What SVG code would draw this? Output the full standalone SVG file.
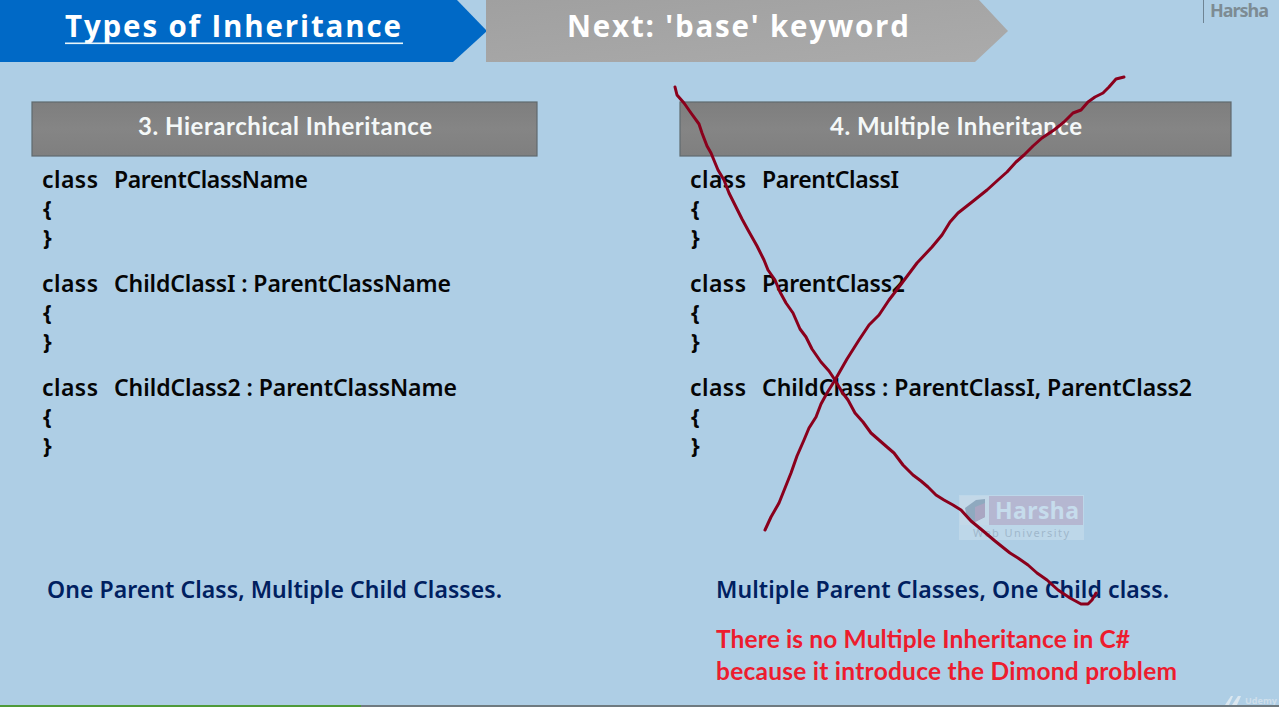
<svg xmlns="http://www.w3.org/2000/svg" width="1279" height="707" viewBox="0 0 1279 707">
<defs>
<linearGradient id="gh" x1="0" y1="0" x2="0" y2="1"><stop offset="0" stop-color="#7e7e7e"/><stop offset="0.5" stop-color="#858585"/><stop offset="1" stop-color="#7f7f7f"/></linearGradient>
<linearGradient id="gg" x1="0" y1="0" x2="1" y2="1"><stop offset="0" stop-color="#a0a0a0"/><stop offset="1" stop-color="#ababab"/></linearGradient>
</defs>
<style>
text{font-family:"Noto Sans","Open Sans","Liberation Sans",sans-serif}
.code{font-size:23px;font-weight:600;fill:#050505}
.brace{font-size:22px;font-weight:700;fill:#050505}
.head{font-family:"Lato","Noto Sans",sans-serif;font-size:24px;font-weight:700;fill:#f4f8f8}
.banner{font-family:"Open Sans","Noto Sans",sans-serif;font-size:29.5px;font-weight:700;fill:#fff}
.blue{font-size:23px;font-weight:600;fill:#002060}
.red{font-family:"Lato","Noto Sans",sans-serif;font-size:24.5px;font-weight:700;fill:#ed1c2e}
.box{fill:url(#gh);stroke:#5f6a6e;stroke-width:1.2}
.ink{fill:none;stroke:#8a001c;stroke-width:3;stroke-linejoin:round;stroke-linecap:round}
</style>
<rect width="1279" height="707" fill="#aecee5"/>
<g id="banner-current">
<polygon points="0,0 457,0 487,31 453,62 0,62" fill="#0069c6"/>
<text class="banner" x="65" y="37" textLength="336">Types of Inheritance</text>
<rect x="65" y="42.5" width="338" height="1.6" fill="#e8f6fa"/>
</g>
<g id="banner-next">
<polygon points="486,0 979,0 1008,31 975,62 486,62" fill="url(#gg)"/>
<text class="banner" x="567" y="37" textLength="342">Next: 'base' keyword</text>
</g>
<g id="brand">
<rect x="1203" y="0" width="1" height="23" fill="#6f8494"/>
<text x="1210" y="17" font-size="18" font-weight="700" fill="#7d8b93" textLength="59">Harsha</text>
</g>
<g id="left-header">
<rect class="box" x="32" y="102" width="505" height="54"/>
<text class="head" x="138" y="135" textLength="294">3. Hierarchical Inheritance</text>
</g>
<g id="right-header">
<rect class="box" x="680" y="102" width="551" height="54"/>
<text class="head" x="830" y="135" textLength="252">4. Multiple Inheritance</text>
</g>
<g id="left-code">
<text class="code" x="42" y="188" textLength="56">class</text>
<text class="code" x="114" y="188" textLength="194">ParentClassName</text>
<text class="brace" x="43" y="216">{</text>
<text class="brace" x="43" y="245">}</text>
<text class="code" x="42" y="292" textLength="56">class</text>
<text class="code" x="114" y="292" textLength="337">ChildClassI : ParentClassName</text>
<text class="brace" x="43" y="320">{</text>
<text class="brace" x="43" y="349">}</text>
<text class="code" x="42" y="396" textLength="56">class</text>
<text class="code" x="114" y="396" textLength="343">ChildClass2 : ParentClassName</text>
<text class="brace" x="43" y="424">{</text>
<text class="brace" x="43" y="453">}</text>
</g>
<g id="right-code">
<text class="code" x="690" y="188" textLength="56">class</text>
<text class="code" x="762" y="188" textLength="137">ParentClassI</text>
<text class="brace" x="691" y="216">{</text>
<text class="brace" x="691" y="245">}</text>
<text class="code" x="690" y="292" textLength="56">class</text>
<text class="code" x="762" y="292" textLength="143">ParentClass2</text>
<text class="brace" x="691" y="320">{</text>
<text class="brace" x="691" y="349">}</text>
<text class="code" x="690" y="396" textLength="56">class</text>
<text class="code" x="762" y="396" textLength="430">ChildClass : ParentClassI, ParentClass2</text>
<text class="brace" x="691" y="424">{</text>
<text class="brace" x="691" y="453">}</text>
</g>
<g id="watermark">
<rect x="959" y="495" width="125" height="45" fill="#bdd7e9"/>
<rect x="960" y="496" width="123" height="29" fill="#b5b7d1"/>
<rect x="960" y="496" width="29" height="29" fill="#c3d8e8"/>
<polygon points="965,508 976,500 985,499 985,517 975,522 967,519" fill="#8fa9bf"/>
<polygon points="975,507 985,503 985,517 975,522" fill="#a9a6c2"/>
<text x="995" y="519" font-size="23" font-weight="700" fill="#c6dcec" textLength="84">Harsha</text>
<text x="973" y="537" font-size="11" fill="#a0b8cc" textLength="96">Web University</text>
</g>
<g id="left-note">
<text class="blue" x="47" y="598" textLength="455">One Parent Class, Multiple Child Classes.</text>
</g>
<g id="right-note">
<text class="blue" x="716" y="598" textLength="453">Multiple Parent Classes, One Child class.</text>
<text class="red" x="716" y="648" textLength="414">There is no Multiple Inheritance in C#</text>
<text class="red" x="716" y="680" textLength="461">because it introduce the Dimond problem</text>
</g>
<g id="connectors">
<polyline class="ink" points="675,87 677,95 684,103 691,113 699,124 702,133 707,146 711,153 718,170 724,180 729,193 736,207 742,219 748,230 757,246 764,260 768,270 775,280 780,292 786,303 793,313 800,329 806,337 812,349 821,362 829,371 835,380 842,392 848,400 855,413 863,422 871,433 879,440 887,447 894,453 903,465 913,475 921,481 928,487 936,495 944,500 953,505 961,510 971,521 982,530 995,541 1010,553 1018,558 1028,565 1037,573 1047,580 1058,590 1070,598 1081,604 1088,604 1092,600 1096,593"/>
<polyline class="ink" points="765,530 771,517 779,503 785,488 791,473 797,456 804,440 809,428 816,417 821,404 827,393 835,380 847,359 859,340 869,325 879,315 889,300 902,283 917,263 932,247 942,235 950,222 958,213 972,202 987,190 998,180 1007,172 1016,162 1024,155 1033,146 1042,138 1054,130 1064,122 1073,113 1081,110 1088,102 1095,97 1103,93 1109,87 1116,79 1124,77"/>
</g>
<g id="udemy">
<polygon points="1225,705 1231,696 1233,696 1229,705" fill="#dbe7f0"/>
<polygon points="1232,705 1238,696 1241,696 1237,705" fill="#dbe7f0"/>
<text x="1245" y="704" font-size="9" font-weight="700" fill="#cfdfeb" textLength="32">Udemy</text>
</g>
<g id="progress">
<rect x="0" y="705" width="361" height="2" fill="#4f9a3a"/>
<rect x="361" y="705" width="918" height="2" fill="#6f7a80"/>
</g>
</svg>
